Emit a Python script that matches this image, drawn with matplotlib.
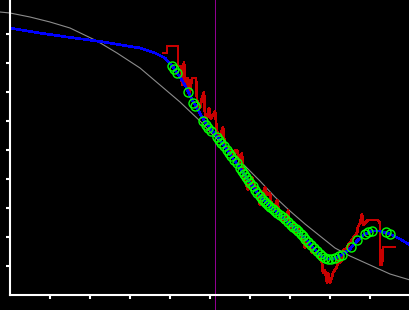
import numpy as np
import matplotlib
matplotlib.use("Agg")
import matplotlib.pyplot as plt

# fitted sigmoid (gray)
gray_x = [-10, 0, 20, 40, 60, 87, 107, 130, 150, 170, 190, 205, 220, 235, 250, 265,
          280, 295, 310, 325, 340, 360, 380, 400]
gray_y = [283, 282, 278, 273, 267, 254, 242, 227, 210, 193, 174, 158, 144, 129, 114, 98,
          84, 71, 59, 47, 39, 30, 21, 15]

# model curve (blue)
blue_x = [0, 23, 57, 87, 130, 145, 155, 163, 170, 176, 180, 188, 195, 200, 210, 220,
          230, 240, 250, 260, 270, 280, 290, 300, 310, 316, 322, 330, 340, 348,
          355, 362, 370, 380, 390, 400]
blue_y = [267, 263, 258, 254, 247, 242, 237, 228, 218, 208, 199, 185, 173, 167, 155, 141,
          127, 112, 99, 89, 80, 71, 62, 51, 40, 36, 36, 39, 46, 55,
          61, 64, 64, 61, 56, 50]

# measured samples (green circles)
pts_x = [162, 164, 167, 178, 183, 185, 193, 196, 198, 201, 207, 209, 211, 214, 217,
         219, 221, 224, 227, 230, 232, 234, 236, 238, 240, 243, 245, 247, 250, 252,
         254, 256, 258, 260, 263, 265, 267, 270, 273, 275, 278, 281, 283, 286, 288,
         291, 293, 295, 298, 301, 304, 307, 310, 312, 315, 318, 321, 325, 329, 332,
         341, 347, 355, 358, 362, 376, 380]
pts_y = [229, 226, 222, 203, 192, 189, 174, 170, 167, 164, 158, 155, 152, 149, 145,
         142, 139, 135, 132, 127, 124, 121, 118, 115, 112, 109, 105, 102, 99, 96,
         94, 92, 90, 88, 86, 84, 82, 80, 78, 76, 73, 70, 68, 66, 64,
         61, 59, 56, 53, 50, 47, 44, 41, 39, 37, 36, 36, 37, 39, 40,
         48, 55, 61, 63, 64, 63, 61]

# raw signal (red)
raw_x = [153, 157, 157, 168, 168, 171, 172, 174, 176, 178, 180, 182, 186, 187, 190,
         192, 194, 195, 197, 199, 201, 203, 205, 207, 210, 213, 215, 218, 221, 223,
         225, 227, 230, 232, 233, 235, 238, 242, 243, 245, 247, 250, 252, 255, 257,
         260, 262, 264, 267, 270, 273, 277, 278, 280, 283, 285, 288, 293, 295, 297,
         300, 302, 307, 312, 313, 315, 317, 318, 320, 322, 323, 327, 328, 330, 332,
         333, 337, 338, 342, 343, 347, 348, 350, 352, 353, 355, 358, 365, 368, 370,
         370, 372, 373, 385]
raw_y = [242, 242, 249, 249, 229, 229, 210, 233, 207, 217, 203, 217, 217, 195, 187,
         197, 203, 180, 177, 187, 176, 180, 184, 163, 159, 168, 148, 148, 142, 138,
         145, 145, 132, 142, 122, 115, 105, 118, 113, 108, 102, 90, 98, 108, 100,
         102, 88, 85, 95, 78, 72, 78, 85, 67, 72, 62, 67, 55, 47, 55,
         48, 42, 42, 32, 22, 25, 12, 22, 12, 18, 22, 28, 35, 32, 35,
         45, 47, 50, 55, 57, 62, 68, 72, 81, 70, 72, 75, 75, 75, 72,
         30, 30, 48, 48]

fig = plt.figure(figsize=(4.1, 3.1), dpi=100, facecolor="black")
ax = fig.add_axes([0, 0, 1, 1], facecolor="black")

ax.axvline(205, color="#900090", lw=0.72, antialiased=False)
ax.plot(gray_x, gray_y, color="#8c8c8c", lw=0.8)
ax.plot(raw_x, raw_y, color="#c80000", lw=1.2, antialiased=False)
ax.plot(blue_x, blue_y, color="#0000ff", lw=1.2, antialiased=False)
ax.plot(pts_x, pts_y, ls="none", marker="o", ms=6.5, mfc="none", mec="#00ff00",
        mew=1.0)

ax.set_xlim(-10, 400)
ax.set_ylim(-15, 295)

for side in ("top", "right"):
    ax.spines[side].set_visible(False)
ax.spines["left"].set_position(("data", 0))
ax.spines["bottom"].set_position(("data", 0))
ax.spines["left"].set_bounds(0, 295)
ax.spines["bottom"].set_bounds(0, 400)
for side in ("left", "bottom"):
    ax.spines[side].set_color("white")
    ax.spines[side].set_linewidth(1.5)

ax.set_xticks(np.arange(40, 401, 40))
ax.set_yticks(np.arange(29, 290, 29))
ax.tick_params(colors="white", length=3, width=1.5, direction="out",
               labelbottom=False, labelleft=False)

fig.savefig("out.png", dpi=100, facecolor="black")
